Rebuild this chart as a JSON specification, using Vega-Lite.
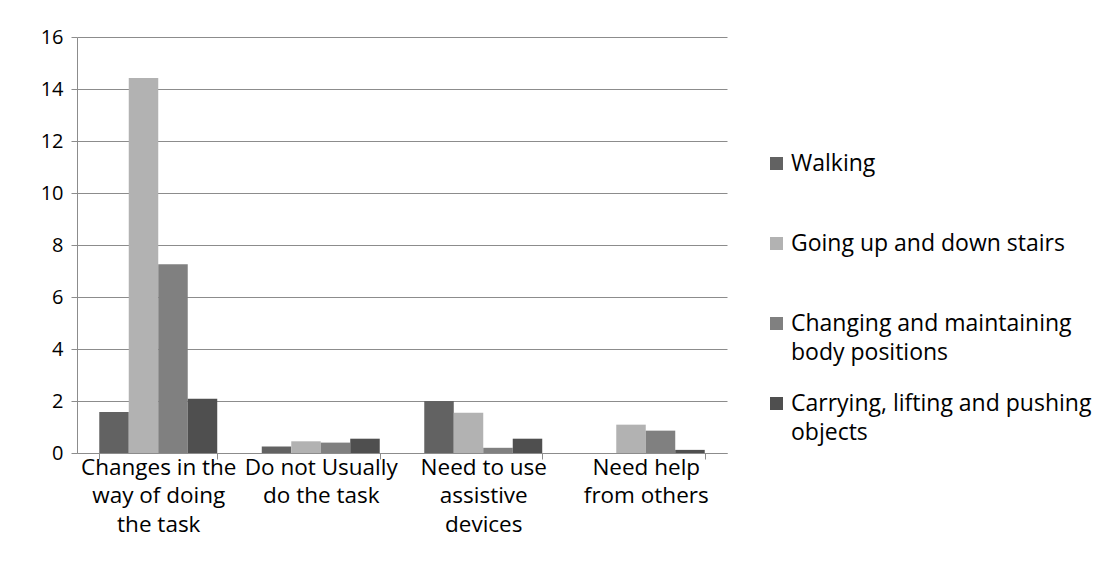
{
  "$schema": "https://vega.github.io/schema/vega-lite/v6.json",
  "width": 650,
  "height": 416,
  "autosize": {"type": "none"},
  "padding": {"left": 77, "top": 37, "right": 389, "bottom": 130},
  "background": "white",
  "config": {
    "font": "Open Sans",
    "view": {"stroke": null},
    "axis": {"labelColor": "#000000", "labelFont": "Open Sans"},
    "legend": {"labelFont": "Open Sans"},
    "style": {"guide-label": {"lineHeight": 29}}
  },
  "data": {
    "values": [
      {"category": "Changes in the way of doing the task", "series": "Walking", "value": 1.58},
      {"category": "Changes in the way of doing the task", "series": "Going up and down stairs", "value": 14.42},
      {"category": "Changes in the way of doing the task", "series": "Changing and maintaining body positions", "value": 7.26},
      {"category": "Changes in the way of doing the task", "series": "Carrying, lifting and pushing objects", "value": 2.09},
      {"category": "Do not Usually do the task", "series": "Walking", "value": 0.25},
      {"category": "Do not Usually do the task", "series": "Going up and down stairs", "value": 0.45},
      {"category": "Do not Usually do the task", "series": "Changing and maintaining body positions", "value": 0.4},
      {"category": "Do not Usually do the task", "series": "Carrying, lifting and pushing objects", "value": 0.55},
      {"category": "Need to use assistive devices", "series": "Walking", "value": 2.0},
      {"category": "Need to use assistive devices", "series": "Going up and down stairs", "value": 1.55},
      {"category": "Need to use assistive devices", "series": "Changing and maintaining body positions", "value": 0.2},
      {"category": "Need to use assistive devices", "series": "Carrying, lifting and pushing objects", "value": 0.55},
      {"category": "Need help from others", "series": "Walking", "value": 0},
      {"category": "Need help from others", "series": "Going up and down stairs", "value": 1.09},
      {"category": "Need help from others", "series": "Changing and maintaining body positions", "value": 0.86},
      {"category": "Need help from others", "series": "Carrying, lifting and pushing objects", "value": 0.12}
    ]
  },
  "mark": {"type": "bar"},
  "encoding": {
    "x": {
      "field": "category",
      "type": "nominal",
      "sort": null,
      "title": null,
      "scale": {"paddingInner": 0.274, "paddingOuter": 0.137},
      "axis": {
        "labelAngle": 0,
        "labelFontSize": 22.5,
        "labelLineHeight": 28.5,
        "labelPadding": -3,
        "labelLimit": 0,
        "labelBaseline": "top",
        "tickBand": "extent",
        "tickSize": 6,
        "tickColor": "#8c8c8c",
        "domainColor": "#8c8c8c",
        "labelExpr": "datum.value == 'Changes in the way of doing the task' ? ['Changes in the','way of doing','the task'] : datum.value == 'Do not Usually do the task' ? ['Do not Usually','do the task'] : datum.value == 'Need to use assistive devices' ? ['Need to use','assistive','devices'] : datum.value == 'Need help from others' ? ['Need help','from others'] : ''"
      }
    },
    "xOffset": {"field": "series", "type": "nominal", "sort": null},
    "y": {
      "field": "value",
      "type": "quantitative",
      "title": null,
      "scale": {"domain": [0, 16], "nice": false},
      "axis": {
        "values": [0, 2, 4, 6, 8, 10, 12, 14, 16],
        "labelFontSize": 20,
        "labelPadding": 8,
        "tickSize": 6,
        "tickColor": "#8c8c8c",
        "domainColor": "#8c8c8c",
        "gridColor": "#8c8c8c",
        "gridOpacity": 1
      }
    },
    "color": {
      "field": "series",
      "type": "nominal",
      "sort": null,
      "scale": {"range": ["#626262", "#b2b2b2", "#808080", "#4f4f4f"]},
      "legend": {
        "title": null,
        "orient": "none",
        "legendX": 688,
        "legendY": 115,
        "gridAlign": "all",
        "symbolType": "square",
        "symbolSize": 169,
        "symbolStrokeWidth": 0,
        "labelFontSize": 23,
        "labelColor": "#000000",
        "labelLimit": 0,
        "labelOffset": 3,
        "rowPadding": 27,
        "labelExpr": "datum.value == 'Changing and maintaining body positions' ? ['Changing and maintaining','body positions'] : datum.value == 'Carrying, lifting and pushing objects' ? ['Carrying, lifting and pushing','objects'] : datum.value"
      }
    }
  }
}
